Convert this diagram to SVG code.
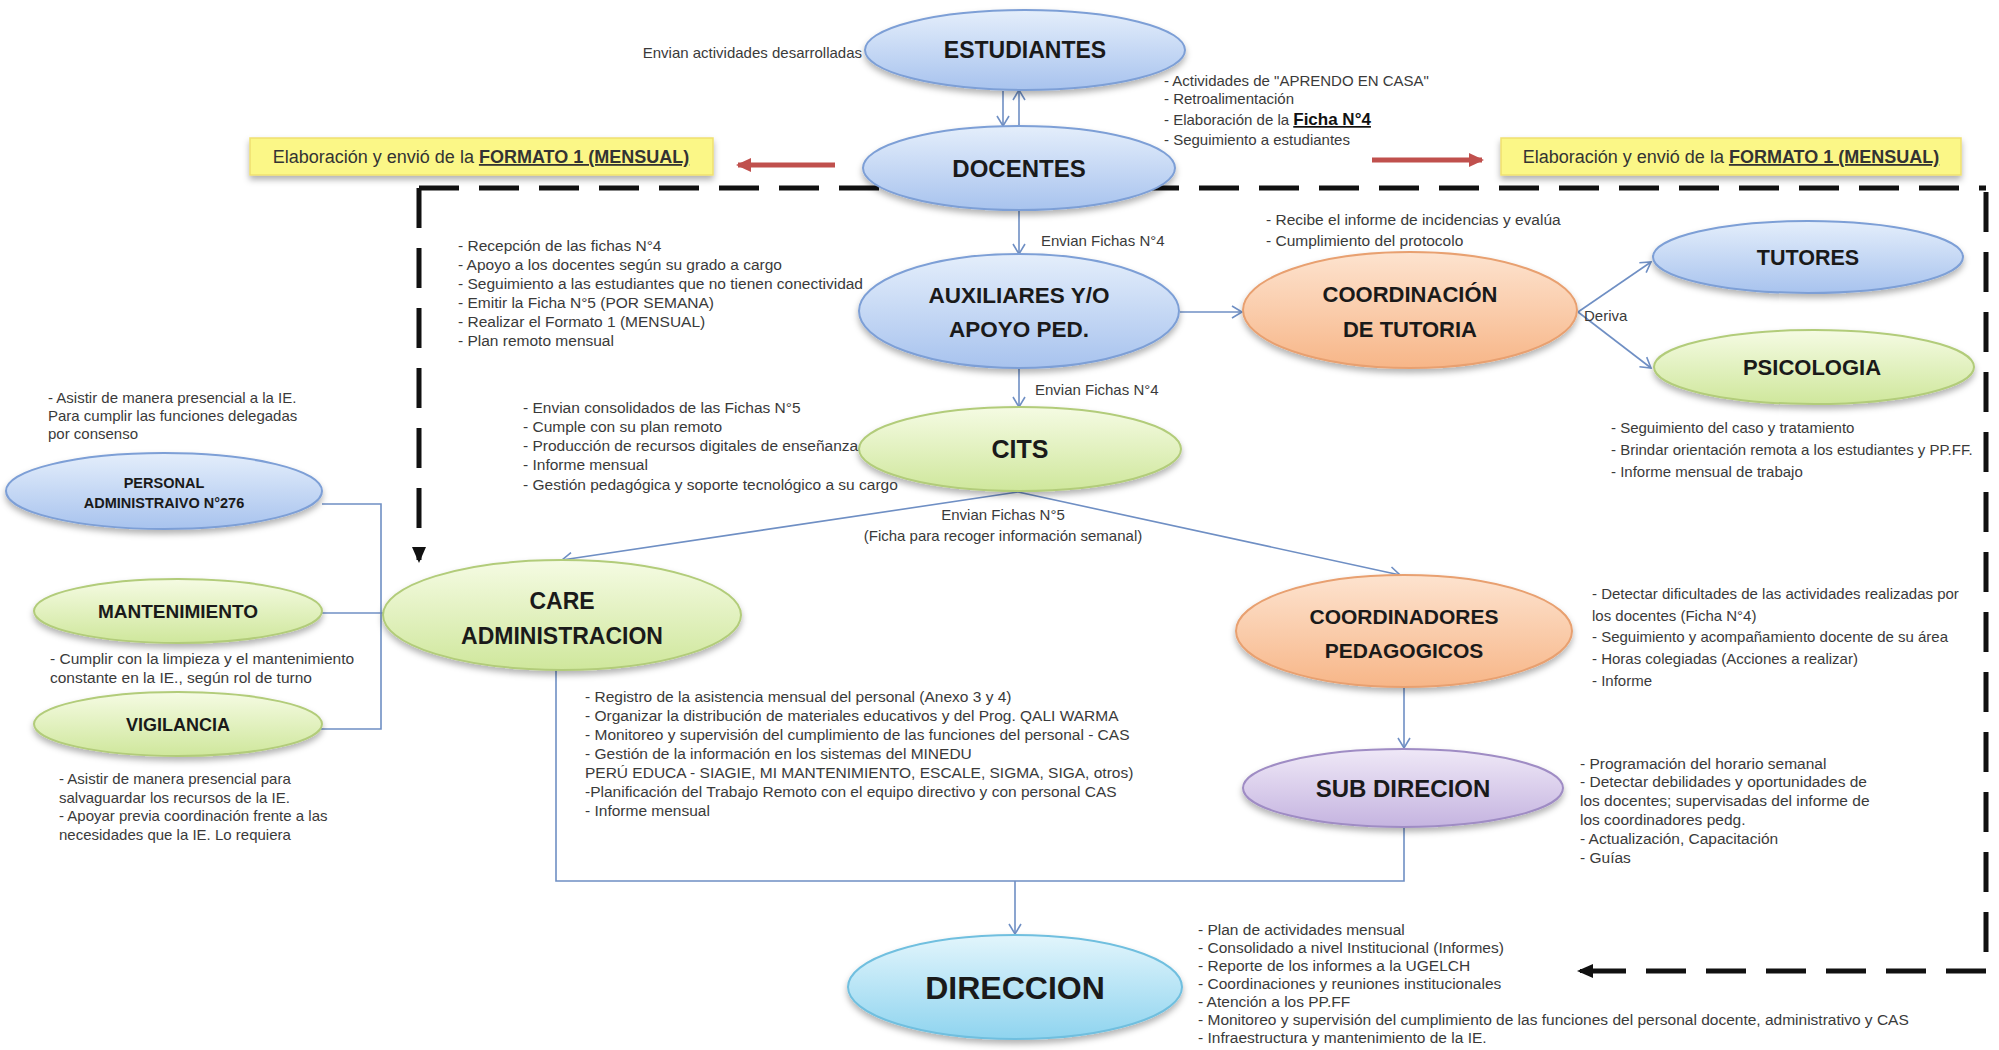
<svg xmlns="http://www.w3.org/2000/svg" width="1999" height="1050" viewBox="0 0 1999 1050">
  <defs>
    <style>
      .note { font-family: "Liberation Sans", Arial, sans-serif; font-size: 15px; fill: #3a3a3a; }
      .w { font-size: 15.5px; }
      .lbl { font-family: "Liberation Sans", Arial, sans-serif; font-size: 15px; fill: #3a3a3a; }
      .title { font-family: "Liberation Sans", Arial, sans-serif; font-weight: bold; fill: #1a1a1a; text-anchor: middle; }
      .conn { fill: none; stroke: #6f8fc4; stroke-width: 1.6; }
      .dash { fill: none; stroke: #111; stroke-width: 5; stroke-dasharray: 40 20; }
      .red { fill: none; stroke: #c0504d; stroke-width: 5; }
      .yellow { fill: #fbf787; stroke: #efe070; stroke-width: 1.5; }
      .ytext { font-family: "Liberation Sans", Arial, sans-serif; font-size: 18px; fill: #333; text-anchor: middle; }
      .blue { fill: url(#gBlue); stroke: #7d9fd6; stroke-width: 2; }
      .green { fill: url(#gGreen); stroke: #b2cc7a; stroke-width: 2; }
      .orange { fill: url(#gOrange); stroke: #e8a070; stroke-width: 2; }
      .purple { fill: url(#gPurple); stroke: #9f8cc4; stroke-width: 2; }
      .cyan { fill: url(#gCyan); stroke: #70bfdf; stroke-width: 2; }
    </style>
    <linearGradient id="gBlue" x1="0" y1="0" x2="0" y2="1">
      <stop offset="0" stop-color="#e4eefb"/>
      <stop offset="1" stop-color="#a8c3ee"/>
    </linearGradient>
    <linearGradient id="gGreen" x1="0" y1="0" x2="0" y2="1">
      <stop offset="0" stop-color="#f5fbe3"/>
      <stop offset="1" stop-color="#cfe79c"/>
    </linearGradient>
    <linearGradient id="gOrange" x1="0" y1="0" x2="0" y2="1">
      <stop offset="0" stop-color="#fde3cf"/>
      <stop offset="1" stop-color="#f7b688"/>
    </linearGradient>
    <linearGradient id="gPurple" x1="0" y1="0" x2="0" y2="1">
      <stop offset="0" stop-color="#efe8f7"/>
      <stop offset="1" stop-color="#c5b4e0"/>
    </linearGradient>
    <linearGradient id="gCyan" x1="0" y1="0" x2="0" y2="1">
      <stop offset="0" stop-color="#e2f5fc"/>
      <stop offset="1" stop-color="#8fd4ef"/>
    </linearGradient>
    <filter id="shadow" x="-10%" y="-20%" width="120%" height="150%">
      <feDropShadow dx="0" dy="4" stdDeviation="3" flood-color="#000" flood-opacity="0.3"/>
    </filter>
    <marker id="chev" markerUnits="userSpaceOnUse" markerWidth="14" markerHeight="14" refX="11" refY="7" orient="auto">
      <path d="M1,1 L11,7 L1,13" fill="none" stroke="#6f8fc4" stroke-width="1.6"/>
    </marker>
    <marker id="redHead" markerUnits="userSpaceOnUse" markerWidth="16" markerHeight="16" refX="13" refY="8" orient="auto">
      <path d="M0,1 L15,8 L0,15 Z" fill="#c0504d"/>
    </marker>
    <marker id="blackHead" markerUnits="userSpaceOnUse" markerWidth="18" markerHeight="18" refX="13" refY="9" orient="auto">
      <path d="M0,2 L16,9 L0,16 Z" fill="#111"/>
    </marker>
  </defs>

  <rect width="1999" height="1050" fill="#ffffff"/>

  <!-- dashed frame and red report arrows -->
  <g id="frame">
    <path class="dash" d="M419,188 H1986"/>
    <path class="dash" d="M419,188 V560" marker-end="url(#blackHead)"/>
    <path class="dash" d="M1986,192 V971"/>
    <path class="dash" d="M1986,971 H1592"/>
    <path d="M1610,971 H1580" fill="none" stroke="#111" stroke-width="4" marker-end="url(#blackHead)"/>
    <path class="red" d="M835,165 H738" marker-end="url(#redHead)"/>
    <path class="red" d="M1372,160 H1482" marker-end="url(#redHead)"/>
  </g>

  <!-- connectors -->
  <g id="connectors">
    <path class="conn" d="M1003,91 V126" marker-end="url(#chev)"/>
    <path class="conn" d="M1019,127 V90" marker-end="url(#chev)"/>
    <path class="conn" d="M1019,210 V254" marker-end="url(#chev)"/>
    <path class="conn" d="M1180,312 H1242" marker-end="url(#chev)"/>
    <path class="conn" d="M1578,312 L1651,262" marker-end="url(#chev)"/>
    <path class="conn" d="M1578,312 L1651,368" marker-end="url(#chev)"/>
    <path class="conn" d="M1019,368 V407" marker-end="url(#chev)"/>
    <path class="conn" d="M1018,492 L562,560" marker-end="url(#chev)"/>
    <path class="conn" d="M1018,492 L1400,575" marker-end="url(#chev)"/>
    <path class="conn" d="M1404,687 V748" marker-end="url(#chev)"/>
    <path class="conn" d="M556,670 V881 H1404 V827"/>
    <path class="conn" d="M1015,881 V934" marker-end="url(#chev)"/>
    <path class="conn" d="M322,504 H381 V729 H321"/>
    <path class="conn" d="M322,613 H384"/>
  </g>

  <!-- report boxes -->
  <g id="box-formato-left">
    <rect class="yellow" x="250" y="138" width="463" height="37" filter="url(#shadow)"/>
    <text class="ytext" x="481" y="163">Elaboración y envió de la <tspan font-weight="bold" text-decoration="underline">FORMATO 1 (MENSUAL)</tspan></text>
  </g>
  <g id="box-formato-right">
    <rect class="yellow" x="1501" y="138" width="460" height="37" filter="url(#shadow)"/>
    <text class="ytext" x="1731" y="163">Elaboración y envió de la <tspan font-weight="bold" text-decoration="underline">FORMATO 1 (MENSUAL)</tspan></text>
  </g>

  <g id="node-estudiantes">
    <ellipse class="blue" cx="1025" cy="50" rx="160" ry="40" filter="url(#shadow)"/>
    <text class="title" x="1025" y="58" font-size="23">ESTUDIANTES</text>
    <text class="note" x="862" y="58" text-anchor="end">Envian actividades desarrolladas</text>
    <text class="note" x="1164" y="86">- Actividades de "APRENDO EN CASA"</text>
    <text class="note" x="1164" y="104">- Retroalimentación</text>
    <text class="note" x="1164" y="125">- Elaboración de la <tspan font-weight="bold" font-size="17" fill="#111" text-decoration="underline">Ficha N°4</tspan></text>
    <text class="note" x="1164" y="145">- Seguimiento a estudiantes</text>
  </g>

  <g id="node-docentes">
    <ellipse class="blue" cx="1019" cy="168" rx="156" ry="42" filter="url(#shadow)"/>
    <text class="title" x="1019" y="177" font-size="24">DOCENTES</text>
  </g>

  <g id="node-auxiliares">
    <ellipse class="blue" cx="1019" cy="311" rx="160" ry="57" filter="url(#shadow)"/>
    <text class="title" x="1019" y="303" font-size="22.5">AUXILIARES Y/O</text>
    <text class="title" x="1019" y="337" font-size="22.5">APOYO PED.</text>
    <text class="lbl" x="1041" y="246">Envian Fichas N°4</text>
    <text class="note w" x="458" y="251">- Recepción de las fichas N°4</text>
    <text class="note w" x="458" y="270">- Apoyo a los docentes según su grado a cargo</text>
    <text class="note w" x="458" y="289">- Seguimiento a las estudiantes que no tienen conectividad</text>
    <text class="note w" x="458" y="308">- Emitir la Ficha N°5 (POR SEMANA)</text>
    <text class="note w" x="458" y="327">- Realizar el Formato 1 (MENSUAL)</text>
    <text class="note w" x="458" y="346">- Plan remoto mensual</text>
  </g>

  <g id="node-coordinacion-tutoria">
    <ellipse class="orange" cx="1410" cy="310" rx="167" ry="58" filter="url(#shadow)"/>
    <text class="title" x="1410" y="302" font-size="22">COORDINACIÓN</text>
    <text class="title" x="1410" y="337" font-size="22">DE TUTORIA</text>
    <text class="note w" x="1266" y="225">- Recibe el informe de incidencias y evalúa</text>
    <text class="note w" x="1266" y="246">- Cumplimiento del protocolo</text>
    <text class="lbl w" x="1584" y="321">Deriva</text>
  </g>

  <g id="node-tutores">
    <ellipse class="blue" cx="1808" cy="257" rx="155" ry="36" filter="url(#shadow)"/>
    <text class="title" x="1808" y="265" font-size="21.5">TUTORES</text>
  </g>

  <g id="node-psicologia">
    <ellipse class="green" cx="1814" cy="367" rx="160" ry="37" filter="url(#shadow)"/>
    <text class="title" x="1812" y="375" font-size="22">PSICOLOGIA</text>
    <text class="note" x="1611" y="433">-  Seguimiento del caso y tratamiento</text>
    <text class="note" x="1611" y="455">- Brindar orientación remota a los estudiantes y PP.FF.</text>
    <text class="note" x="1611" y="477">- Informe mensual de trabajo</text>
  </g>

  <g id="node-cits">
    <ellipse class="green" cx="1020" cy="449" rx="161" ry="42" filter="url(#shadow)"/>
    <text class="title" x="1020" y="458" font-size="25">CITS</text>
    <text class="lbl" x="1035" y="395">Envian Fichas N°4</text>
    <text class="note w" x="523" y="413">- Envian consolidados de las Fichas N°5</text>
    <text class="note w" x="523" y="432">- Cumple con su plan remoto</text>
    <text class="note w" x="523" y="451">- Producción de recursos digitales de enseñanza</text>
    <text class="note w" x="523" y="470">- Informe mensual</text>
    <text class="note w" x="523" y="490">- Gestión pedagógica y soporte tecnológico a su cargo</text>
    <text class="lbl w" x="1003" y="520" text-anchor="middle">Envian Fichas N°5</text>
    <text class="lbl w" x="1003" y="541" text-anchor="middle">(Ficha para recoger información semanal)</text>
  </g>

  <g id="node-personal-administrativo">
    <ellipse class="blue" cx="164" cy="491" rx="158" ry="38" filter="url(#shadow)"/>
    <text class="title" x="164" y="488" font-size="14.5">PERSONAL</text>
    <text class="title" x="164" y="508" font-size="14.5">ADMINISTRAIVO N°276</text>
    <text class="note" x="48" y="403">- Asistir de manera presencial a la IE.</text>
    <text class="note" x="48" y="421">Para cumplir las funciones delegadas</text>
    <text class="note" x="48" y="439">por consenso</text>
  </g>

  <g id="node-mantenimiento">
    <ellipse class="green" cx="178" cy="611" rx="144" ry="32" filter="url(#shadow)"/>
    <text class="title" x="178" y="618" font-size="19">MANTENIMIENTO</text>
    <text class="note w" x="50" y="664">- Cumplir con la limpieza y el mantenimiento</text>
    <text class="note w" x="50" y="683">constante en la IE., según rol de turno</text>
  </g>

  <g id="node-vigilancia">
    <ellipse class="green" cx="178" cy="724" rx="144" ry="32" filter="url(#shadow)"/>
    <text class="title" x="178" y="731" font-size="18">VIGILANCIA</text>
    <text class="note" x="59" y="784">- Asistir de manera presencial para</text>
    <text class="note" x="59" y="803">salvaguardar los recursos de la IE.</text>
    <text class="note" x="59" y="821">- Apoyar previa coordinación frente a las</text>
    <text class="note" x="59" y="840">necesidades que la IE. Lo requiera</text>
  </g>

  <g id="node-care">
    <ellipse class="green" cx="562" cy="615" rx="179" ry="55" filter="url(#shadow)"/>
    <text class="title" x="562" y="609" font-size="23">CARE</text>
    <text class="title" x="562" y="644" font-size="23">ADMINISTRACION</text>
    <text class="note w" x="585" y="702">- Registro de la asistencia mensual del personal (Anexo 3 y 4)</text>
    <text class="note w" x="585" y="721">- Organizar la distribución de materiales educativos y del Prog. QALI WARMA</text>
    <text class="note w" x="585" y="740">- Monitoreo y supervisión del cumplimiento de las funciones del personal - CAS</text>
    <text class="note w" x="585" y="759">- Gestión de la información en los sistemas del MINEDU</text>
    <text class="note w" x="585" y="778">PERÚ EDUCA - SIAGIE, MI MANTENIMIENTO, ESCALE, SIGMA, SIGA, otros)</text>
    <text class="note w" x="585" y="797">-Planificación del Trabajo Remoto con el equipo directivo y con personal CAS</text>
    <text class="note w" x="585" y="816">- Informe mensual</text>
  </g>

  <g id="node-coordinadores">
    <ellipse class="orange" cx="1404" cy="631" rx="168" ry="56" filter="url(#shadow)"/>
    <text class="title" x="1404" y="624" font-size="21">COORDINADORES</text>
    <text class="title" x="1404" y="658" font-size="21">PEDAGOGICOS</text>
    <text class="note" x="1592" y="599">- Detectar dificultades de las actividades realizadas por</text>
    <text class="note" x="1592" y="621">los docentes (Ficha N°4)</text>
    <text class="note" x="1592" y="642">- Seguimiento y acompañamiento docente de su área</text>
    <text class="note" x="1592" y="664">- Horas colegiadas (Acciones a realizar)</text>
    <text class="note" x="1592" y="686">- Informe</text>
  </g>

  <g id="node-subdireccion">
    <ellipse class="purple" cx="1403" cy="788" rx="160" ry="39" filter="url(#shadow)"/>
    <text class="title" x="1403" y="797" font-size="24">SUB DIRECION</text>
    <text class="note w" x="1580" y="769">- Programación del horario semanal</text>
    <text class="note w" x="1580" y="787">- Detectar debilidades y oportunidades de</text>
    <text class="note w" x="1580" y="806">los docentes; supervisadas del informe de</text>
    <text class="note w" x="1580" y="825">los coordinadores pedg.</text>
    <text class="note w" x="1580" y="844">- Actualización, Capacitación</text>
    <text class="note w" x="1580" y="863">- Guías</text>
  </g>

  <g id="node-direccion">
    <ellipse class="cyan" cx="1015" cy="987" rx="167" ry="52" filter="url(#shadow)"/>
    <text class="title" x="1015" y="999" font-size="32">DIRECCION</text>
    <text class="note w" x="1198" y="935">- Plan de actividades mensual</text>
    <text class="note w" x="1198" y="953">- Consolidado a nivel Institucional (Informes)</text>
    <text class="note w" x="1198" y="971">- Reporte de los informes a la UGELCH</text>
    <text class="note w" x="1198" y="989">- Coordinaciones y reuniones institucionales</text>
    <text class="note w" x="1198" y="1007">- Atención a los PP.FF</text>
    <text class="note w" x="1198" y="1025">- Monitoreo y supervisión del cumplimiento de las funciones del personal docente, administrativo y CAS</text>
    <text class="note w" x="1198" y="1043">- Infraestructura y mantenimiento de la IE.</text>
  </g>
</svg>
